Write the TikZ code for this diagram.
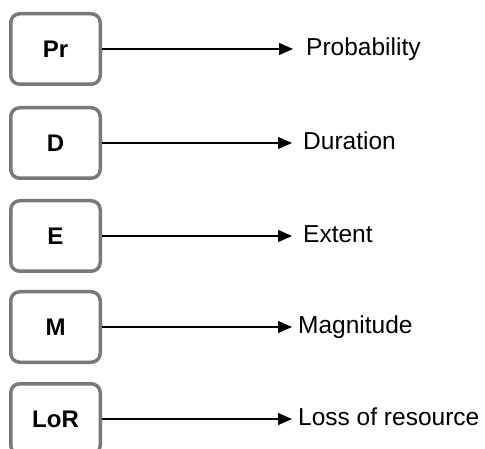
\documentclass[tikz,border=0pt]{standalone}
\usepackage{fontspec}
\setmainfont{Liberation Sans}
\usetikzlibrary{arrows.meta}
\begin{document}
\begin{tikzpicture}[x=1pt,y=1pt,
  keybox/.style={draw=gray!95!black, line width=3.5pt, rounded corners=9pt,
    minimum width=89.5pt, minimum height=70.5pt, inner sep=0pt, fill=white,
    font=\fontsize{24}{28}\selectfont\bfseries},
  lbl/.style={anchor=west, inner sep=0pt, text height=17.6pt, text depth=5.2pt,
    font=\fontsize{24.5}{29}\selectfont},
  conn/.style={line width=1.2pt, -{Triangle[length=14pt,width=12pt]}}]
\useasboundingbox (0,0) rectangle (485,-449);
\node[keybox] (pr)  at (55.5,-49)  {Pr};
\node[keybox] (d)   at (55.5,-143) {D};
\node[keybox] (e)   at (55.5,-236) {E};
\node[keybox] (m)   at (55.5,-327) {M};
\node[keybox] (lor) at (55.5,-419) {LoR};
\node[lbl] (prl)  at (306,-49)  {Probability};
\node[lbl] (dl)   at (303,-143) {Duration};
\node[lbl] (el)   at (303,-236) {Extent};
\node[lbl] (ml)   at (298,-327) {Magnitude};
\node[lbl] (lorl) at (298,-419) {Loss of resource};
\draw[conn, shorten >=13pt] (pr.east) -- (prl.west);
\draw[conn, shorten >=11pt] (d.east) -- (dl.west);
\draw[conn, shorten >=11pt] (e.east) -- (el.west);
\draw[conn, shorten >=6pt] (m.east) -- (ml.west);
\draw[conn, shorten >=6pt] (lor.east) -- (lorl.west);
\end{tikzpicture}
\end{document}
